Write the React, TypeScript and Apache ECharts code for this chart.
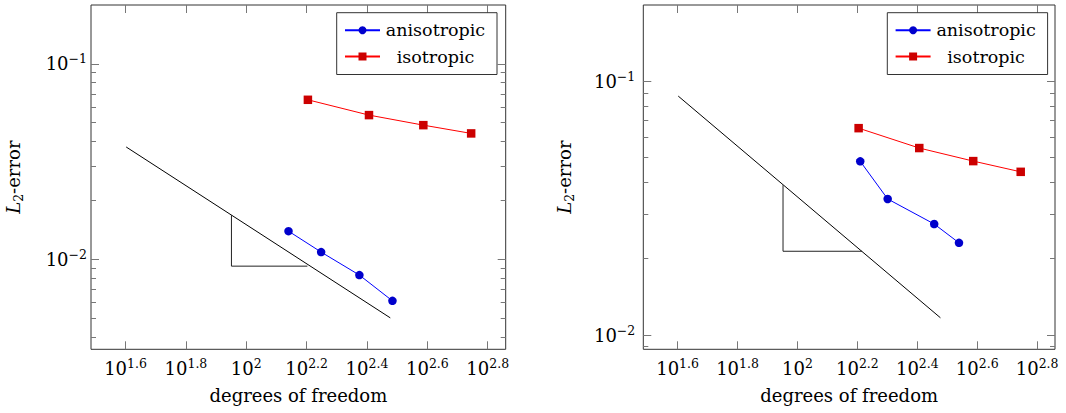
import React, { useEffect, useRef } from "react";
import * as echarts from "echarts";

// ---- data (raw values, plotted on log10 axes) ----
const xTickExps = [1.6, 1.8, 2.0, 2.2, 2.4, 2.6, 2.8];
const yTickExps = [-2, -1];

const isoDof = [160, 255, 386, 556];
const isoErr = [0.0654, 0.0546, 0.0485, 0.044];

const anisoDofLeft = [138, 177, 237, 305];
const anisoErrLeft = [0.0139, 0.01086, 0.00828, 0.00611];

const anisoDofRight = [162, 200, 286, 346];
const anisoErrRight = [0.0484, 0.0344, 0.0274, 0.0231];

const refDof = [40, 300];
const refErrLeft = [0.0375, 0.005];
const refErrRight = [0.0875, 0.0117];

const triDofLeft = [89.3, 89.3, 159.4];
const triErrLeft = [0.0168, 0.0092, 0.0092];
const triDofRight = [89.5, 89.5, 164.3];
const triErrRight = [0.039, 0.0214, 0.0214];

const xRange = [1.4855, 2.8595];
const yRangeLeft = [-2.462, -0.699];
const yRangeRight = [-2.056, -0.699];

const FONT = "'DejaVu Serif', serif";
const FS = 18;
const FS_SUP = 12.5;

const pts = (xs: number[], ys: number[]) =>
  xs.map((x, i) => [Math.log10(x), Math.log10(ys[i])]);

function minorExps(range: number[]) {
  const out: number[] = [];
  for (let d = -4; d <= 0; d++) {
    for (let k = 2; k <= 9; k++) {
      const e = Math.log10(k * Math.pow(10, d));
      if (e > range[0] + 1e-6 && e < range[1] - 1e-3) out.push(e);
    }
  }
  return out;
}

const supRich = {
  b: { fontFamily: FONT, fontSize: FS, lineHeight: 23, color: "#000", verticalAlign: "middle" },
  s: { fontFamily: FONT, fontSize: FS_SUP, lineHeight: 12, color: "#000", verticalAlign: "top" },
};

function fmtExp(v: number) {
  const r = Math.round(v * 10) / 10;
  const s = Number.isInteger(r) ? String(Math.abs(r)) : Math.abs(r).toFixed(1);
  return `{b|10}{s|${r < 0 ? "\u2212" : ""}${s}}`;
}

const tickStyle = { color: "#777", width: 1 };

function axesFor(gi: number, yRange: number[], yLabelMargin: number, yNameGap: number) {
  const xBase: any = {
    type: "value",
    gridIndex: gi,
    min: xRange[0],
    max: xRange[1],
    splitLine: { show: false },
    axisLine: { show: false },
  };
  const xAxes = [
    {
      ...xBase,
      position: "bottom",
      axisTick: { show: true, inside: true, length: 8, customValues: xTickExps, lineStyle: tickStyle },
      axisLabel: { show: true, customValues: xTickExps, formatter: fmtExp, rich: supRich, margin: 8 },
      name: "degrees of freedom",
      nameLocation: "middle",
      nameGap: 37,
      nameTextStyle: { fontFamily: FONT, fontSize: FS, color: "#000" },
    },
    {
      ...xBase,
      position: "top",
      axisTick: { show: true, inside: true, length: 8, customValues: xTickExps, lineStyle: tickStyle },
      axisLabel: { show: false },
    },
  ];
  const yBase: any = {
    type: "value",
    gridIndex: gi,
    min: yRange[0],
    max: yRange[1],
    splitLine: { show: false },
    axisLine: { show: false },
  };
  const minor = minorExps(yRange);
  const yAxes = [
    {
      ...yBase,
      position: "left",
      axisTick: { show: true, inside: true, length: 8, customValues: yTickExps, lineStyle: tickStyle },
      axisLabel: { show: true, customValues: yTickExps, formatter: fmtExp, rich: supRich, margin: yLabelMargin },
      name: "{i|L}{u|2}{n|-error}",
      nameLocation: "middle",
      nameRotate: 90,
      nameGap: yNameGap,
      nameTextStyle: {
        rich: {
          i: { fontFamily: FONT, fontSize: FS, fontStyle: "italic", lineHeight: 23, color: "#000" },
          u: { fontFamily: FONT, fontSize: FS_SUP, lineHeight: 12, verticalAlign: "bottom", color: "#000" },
          n: { fontFamily: FONT, fontSize: FS, lineHeight: 23, color: "#000" },
        },
      },
    },
    {
      ...yBase,
      position: "left",
      axisTick: { show: true, inside: true, length: 5, customValues: minor, lineStyle: tickStyle },
      axisLabel: { show: false },
    },
    {
      ...yBase,
      position: "right",
      axisTick: { show: true, inside: true, length: 8, customValues: yTickExps, lineStyle: tickStyle },
      axisLabel: { show: false },
    },
    {
      ...yBase,
      position: "right",
      axisTick: { show: true, inside: true, length: 5, customValues: minor, lineStyle: tickStyle },
      axisLabel: { show: false },
    },
  ];
  return { xAxes, yAxes };
}

function seriesFor(
  xi: number,
  yi: number,
  aDof: number[],
  aErr: number[],
  refErr: number[],
  tDof: number[],
  tErr: number[]
) {
  return [
    {
      type: "line",
      name: "reference",
      xAxisIndex: xi,
      yAxisIndex: yi,
      data: pts(refDof, refErr),
      symbol: "none",
      lineStyle: { color: "#000", width: 1 },
      silent: true,
      z: 2,
    },
    {
      type: "line",
      name: "triangle",
      xAxisIndex: xi,
      yAxisIndex: yi,
      data: pts(tDof, tErr),
      symbol: "none",
      lineStyle: { color: "#222", width: 1 },
      silent: true,
      z: 2,
    },
    {
      type: "line",
      name: "anisotropic",
      xAxisIndex: xi,
      yAxisIndex: yi,
      data: pts(aDof, aErr),
      symbol: "circle",
      symbolSize: 8.5,
      itemStyle: { color: "#0000cc" },
      lineStyle: { color: "#0000ff", width: 1 },
      z: 3,
    },
    {
      type: "line",
      name: "isotropic",
      xAxisIndex: xi,
      yAxisIndex: yi,
      data: pts(isoDof, isoErr),
      symbol: "rect",
      symbolSize: 8.5,
      itemStyle: { color: "#cc0000" },
      lineStyle: { color: "#ff0000", width: 1 },
      z: 3,
    },
  ];
}

function legendAt(left: number) {
  return {
    data: ["anisotropic", "isotropic"],
    orient: "vertical",
    left,
    top: 12.7,
    padding: [8.5, 11, 9, 7.3],
    itemWidth: 35,
    itemHeight: 10,
    itemGap: 8.3,
    borderColor: "#333",
    borderWidth: 1,
    backgroundColor: "#fff",
    selectedMode: false,
    formatter: (n: string) => `{c|${n}}`,
    textStyle: {
      rich: {
        c: { width: 101, align: "center", fontFamily: FONT, fontSize: 17.5, lineHeight: 17, color: "#000" },
      },
    },
  };
}

export default function App() {
  const ref = useRef<HTMLDivElement>(null);
  useEffect(() => {
    if (!ref.current) return;
    const chart = echarts.init(ref.current, undefined, { renderer: "svg" });
    const a = axesFor(0, yRangeLeft, 4, 66);
    const b = axesFor(1, yRangeRight, 8, 67);
    const option: any = {
      animation: false,
      backgroundColor: "#fff",
      grid: [
        { left: 91, top: 5, width: 414.7, height: 344.3, show: true, borderColor: "#333", borderWidth: 1, backgroundColor: "transparent" },
        { left: 643.3, top: 5, width: 411.7, height: 344.3, show: true, borderColor: "#333", borderWidth: 1, backgroundColor: "transparent" },
      ],
      xAxis: [...a.xAxes, ...b.xAxes],
      yAxis: [...a.yAxes, ...b.yAxes],
      legend: [legendAt(336.7), legendAt(887.3)],
      series: [
        ...seriesFor(0, 0, anisoDofLeft, anisoErrLeft, refErrLeft, triDofLeft, triErrLeft),
        ...seriesFor(2, 4, anisoDofRight, anisoErrRight, refErrRight, triDofRight, triErrRight),
      ],
    };
    chart.setOption(option);
    return () => chart.dispose();
  }, []);
  return (
    <div
      ref={ref}
      style={{ position: "absolute", left: 0, top: 0, width: 1066, height: 413 }}
    />
  );
}
